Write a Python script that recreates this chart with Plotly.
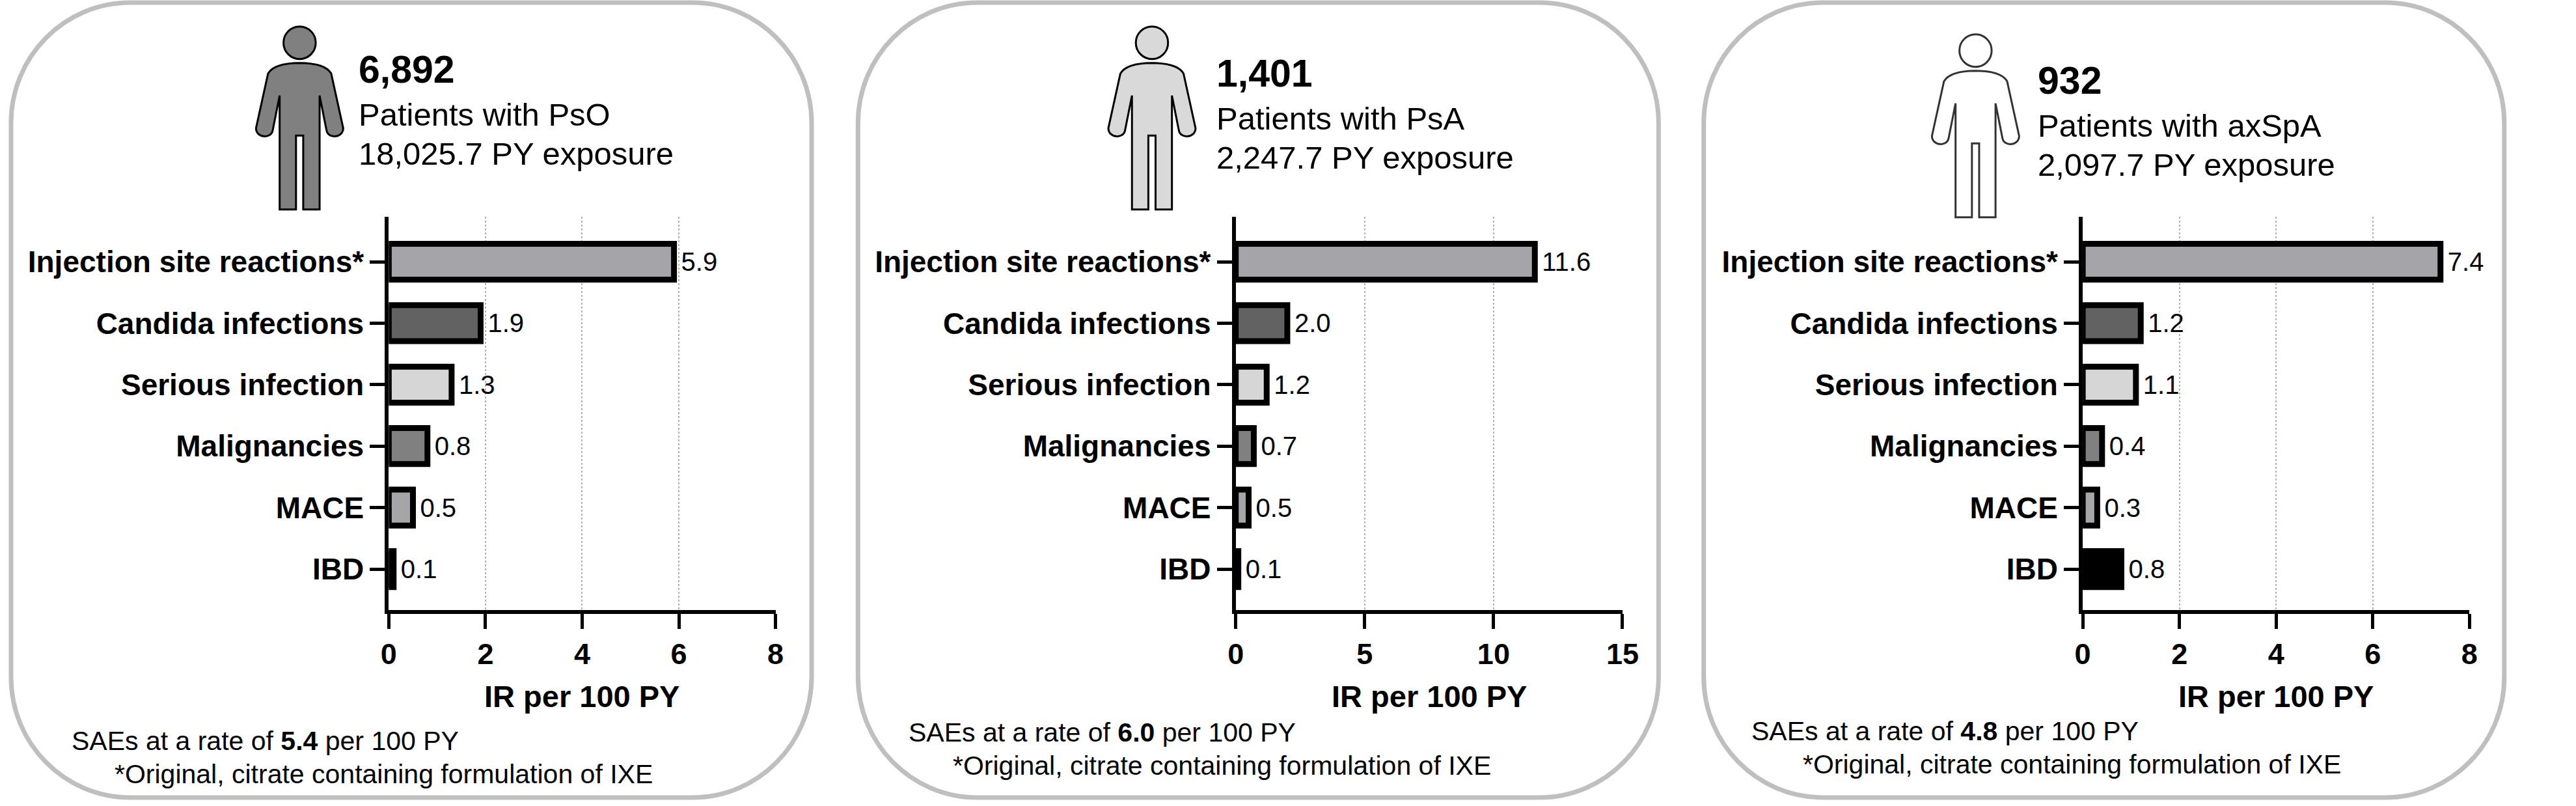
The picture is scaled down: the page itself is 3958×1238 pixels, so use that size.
import plotly.graph_objects as go

# ---------------- data ----------------
categories = ["Injection site reactions*", "Candida infections", "Serious infection",
              "Malignancies", "MACE", "IBD"]
pso_ir = [5.9, 1.9, 1.3, 0.8, 0.5, 0.1]
psa_ir = [11.6, 2.0, 1.2, 0.7, 0.5, 0.1]
axspa_ir = [7.4, 1.2, 1.1, 0.4, 0.3, 0.8]
x_max = [8, 15, 8]
x_dtick = [2, 5, 2]
patients = ["6,892", "1,401", "932"]
populations = ["PsO", "PsA", "axSpA"]
exposure_py = ["18,025.7", "2,247.7", "2,097.7"]
sae_rates = ["5.4", "6.0", "4.8"]
axis_title = "IR per 100 PY"
footnote = "*Original, citrate containing formulation of IXE"

# ---------------- styling ----------------
W, H = 3958, 1238
FONT = "Liberation Sans, Arial, Helvetica, sans-serif"
bar_colors = ["#a4a4a9", "#626262", "#d6d6d6", "#808080", "#a6a6a8", "#000000"]
icon_fills = ["#808080", "#d9d9d9", "#ffffff"]
series = [pso_ir, psa_ir, axspa_ir]

chart_off = [0, 1314, 2628]
panel_off = [0, 1314, 2626]
icon_cx = [451.7, 1774.0, 3051.7]
icon_dy = [0, 0, 12]
head_x = [541, 1872, 3146]
head_dy = [0, 6, 17]
foot_x1 = [96, 1394, 2702]
foot_x2 = [163, 1463, 2782]
foot_dy = [0, -13, -15]


def X(p):
    return p / W


def Y(p):
    return 1 - p / H


def path_from(cmds):
    out = []
    for c in cmds:
        op = c[0]
        pts = c[1:]
        coords = []
        for i in range(0, len(pts), 2):
            coords.append(f"{X(pts[i]):.6f},{Y(pts[i+1]):.6f}")
        out.append(op + " ".join(coords))
    return " ".join(out) + " Z"


def rounded_rect(x0, y0, x1, y1, r):
    k = 0.5523 * r
    return path_from([
        ("M", x0 + r, y0),
        ("L", x1 - r, y0),
        ("C", x1 - r + k, y0, x1, y0 + r - k, x1, y0 + r),
        ("L", x1, y1 - r),
        ("C", x1, y1 - r + k, x1 - r + k, y1, x1 - r, y1),
        ("L", x0 + r, y1),
        ("C", x0 + r - k, y1, x0, y1 - r + k, x0, y1 - r),
        ("L", x0, y0 + r),
        ("C", x0, y0 + r - k, x0 + r - k, y0, x0 + r, y0),
    ])


def person_body(cx, dy):
    p = lambda x, y: (cx + x, y + dy)
    cmds = [
        ("M", *p(0, 96.7)),
        ("Q", *p(40, 97), *p(49, 113)),
        ("L", *p(67.6, 196.7)),
        ("C", *p(68, 212), *p(44, 214), *p(41.7, 200)),
        ("L", *p(31, 146.7)),
        ("L", *p(31, 321.7)),
        ("L", *p(5.6, 321.7)),
        ("L", *p(5.6, 208.3)),
        ("L", *p(-5.6, 208.3)),
        ("L", *p(-5.6, 321.7)),
        ("L", *p(-31, 321.7)),
        ("L", *p(-31, 146.7)),
        ("L", *p(-41.7, 200)),
        ("C", *p(-44, 214), *p(-68, 212), *p(-67.6, 196.7)),
        ("L", *p(-49, 113)),
        ("Q", *p(-40, 97), *p(0, 96.7)),
    ]
    return path_from(cmds)


fig = go.Figure()
shapes = []
annotations = []

for i in range(3):
    xa = "x" if i == 0 else f"x{i+1}"
    ya = "y" if i == 0 else f"y{i+1}"
    fig.add_trace(go.Bar(
        x=series[i], y=categories, orientation="h",
        marker=dict(color=bar_colors, line=dict(color="#000000", width=9)),
        width=0.585,
        text=[f"\u2009{v:.1f}" for v in series[i]],
        textposition="outside",
        textfont=dict(family=FONT, size=40, color="#000000"),
        constraintext="none",
        cliponaxis=False,
        xaxis=xa, yaxis=ya, showlegend=False, hoverinfo="skip",
    ))
    off = chart_off[i]
    xkey = "xaxis" if i == 0 else f"xaxis{i+1}"
    ykey = "yaxis" if i == 0 else f"yaxis{i+1}"
    fig.layout[xkey] = dict(
        domain=[X(590 + off), X(1190 + off)],
        anchor=ya,
        range=[0, x_max[i]], dtick=x_dtick[i], tick0=0,
        showgrid=True, gridcolor="#b0b0b0", gridwidth=2, griddash="dot",
        zeroline=False,
        showline=True, linecolor="#000000", linewidth=6,
        ticks="outside", ticklen=23, tickwidth=5, tickcolor="#000000",
        tickfont=dict(family=FONT, size=45, color="#000000", weight="bold"),
        fixedrange=True,
    )
    fig.layout[ykey] = dict(
        domain=[Y(937), Y(333)],
        anchor=xa,
        type="category",
        categoryorder="array", categoryarray=categories,
        range=[5.667, -0.731],
        showgrid=False, zeroline=False,
        showline=True, linecolor="#000000", linewidth=6,
        ticks="outside", ticklen=23, tickwidth=5, tickcolor="#000000",
        tickfont=dict(family=FONT, size=46, color="#000000", weight="bold"),
        fixedrange=True,
    )

    # panel border
    po = panel_off[i]
    shapes.append(dict(type="path", xref="paper", yref="paper",
                       path=rounded_rect(4 + po, 4, 1246 + po, 1225, 185),
                       line=dict(color="#bfbfbf", width=7), fillcolor="rgba(0,0,0,0)",
                       layer="below"))
    # person icon
    cx, dy = icon_cx[i], icon_dy[i]
    outline = "#000000" if i < 2 else "#333333"
    shapes.append(dict(type="path", xref="paper", yref="paper",
                       path=person_body(cx, dy),
                       line=dict(color=outline, width=3), fillcolor=icon_fills[i]))
    shapes.append(dict(type="circle", xref="paper", yref="paper",
                       x0=X(cx - 25), x1=X(cx + 25), y0=Y(65.7 + dy - 25), y1=Y(65.7 + dy + 25),
                       line=dict(color=outline, width=3), fillcolor=icon_fills[i]))

    # header text
    hx, hdy = head_x[i], head_dy[i]
    annotations.append(dict(text=f"<b>{patients[i]}</b>", x=X(hx), y=Y(107 + hdy),
                            xref="paper", yref="paper", xanchor="left", yanchor="middle",
                            showarrow=False, font=dict(family=FONT, size=59, color="#000000")))
    annotations.append(dict(text=f"Patients with {populations[i]}", x=X(hx), y=Y(176 + hdy),
                            xref="paper", yref="paper", xanchor="left", yanchor="middle",
                            showarrow=False, font=dict(family=FONT, size=49, color="#000000")))
    annotations.append(dict(text=f"{exposure_py[i]} PY exposure", x=X(hx), y=Y(236 + hdy),
                            xref="paper", yref="paper", xanchor="left", yanchor="middle",
                            showarrow=False, font=dict(family=FONT, size=49, color="#000000")))
    # axis title
    annotations.append(dict(text=f"<b>{axis_title}</b>", x=X(890 + off), y=Y(1069),
                            xref="paper", yref="paper", xanchor="center", yanchor="middle",
                            showarrow=False, font=dict(family=FONT, size=47, color="#000000")))
    # footer
    fdy = foot_dy[i]
    annotations.append(dict(text=f"SAEs at a rate of <b>{sae_rates[i]}</b> per 100 PY",
                            x=X(foot_x1[i]), y=Y(1138 + fdy),
                            xref="paper", yref="paper", xanchor="left", yanchor="middle",
                            showarrow=False, font=dict(family=FONT, size=41, color="#000000")))
    annotations.append(dict(text=footnote,
                            x=X(foot_x2[i]), y=Y(1189 + fdy),
                            xref="paper", yref="paper", xanchor="left", yanchor="middle",
                            showarrow=False, font=dict(family=FONT, size=41, color="#000000")))

fig.update_layout(
    width=W, height=H,
    margin=dict(l=0, r=0, t=0, b=0, pad=0),
    paper_bgcolor="#ffffff", plot_bgcolor="#ffffff",
    shapes=shapes, annotations=annotations,
    showlegend=False,
    font=dict(family=FONT, color="#000000"),
)

fig.write_html("out.html", config={"displayModeBar": False, "staticPlot": True},
               post_script="document.body.style.margin='0';document.body.style.overflow='hidden';")
